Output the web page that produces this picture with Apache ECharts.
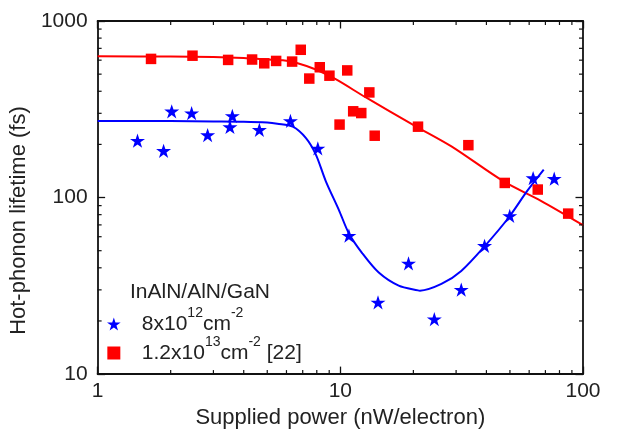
<!DOCTYPE html>
<html>
<head>
<meta charset="utf-8">
<script src="https://cdn.jsdelivr.net/npm/echarts@6/dist/echarts.min.js"></script>
<style>
  html, body { margin: 0; padding: 0; background: #fff; }
  #chart { width: 617px; height: 434px; }
</style>
</head>
<body>
<div id="chart"></div>
<script>
// Axis ticks (log scales)
const xTickValues = [1, 10, 100];
const yTickValues = [10, 100, 1000];
const xMinorTicks = [2, 3, 4, 5, 6, 7, 8, 9, 20, 30, 40, 50, 60, 70, 80, 90];
const yMinorTicks = [20, 30, 40, 50, 60, 70, 80, 90, 200, 300, 400, 500, 600, 700, 800, 900];

// 8x10^12 cm^-2 sample: measured points
const lowPower    = [1.46, 1.87, 2.02, 2.44, 2.84, 3.51, 3.59, 4.64, 6.23, 8.08, 10.85, 14.3, 19.1, 24.4, 31.5, 39.3, 49.9, 62.3, 76.1];
const lowLifetime = [210, 184, 308, 301, 226, 251, 290, 242, 272, 190, 60.9, 25.5, 42.4, 20.5, 30.1, 53.3, 78.8, 129, 128];

// 8x10^12 cm^-2 sample: fitted curve
const lowFitPower    = [1, 2, 3, 4, 5, 5.5, 6.37, 7.22, 7.93, 8.71, 9.88, 10.85, 12.3, 14.4, 17.4, 20.9, 21.3, 26.1, 31.5, 39.8, 49.6, 58.9, 68.9];
const lowFitLifetime = [271, 271, 270, 269, 266, 262, 252, 217, 175, 124, 84.7, 62.6, 48.5, 37.6, 31.7, 29.8, 29.7, 32.4, 38.4, 54, 77.6, 109, 144];

// 1.2x10^13 cm^-2 sample [22]: measured points
const highPower    = [1.66, 2.46, 3.45, 4.33, 4.86, 5.44, 6.33, 6.87, 7.45, 8.23, 9.02, 9.93, 10.68, 11.3, 12.2, 13.17, 13.86, 20.9, 33.7, 47.6, 65.1, 86.9];
const highLifetime = [610, 636, 602, 605, 576, 594, 589, 687, 472, 547, 490, 259, 525, 308, 301, 394, 224, 252, 198, 121, 111, 81.1];

// 1.2x10^13 cm^-2 sample [22]: fitted curve
const highFitPower    = [1, 2, 3, 4, 5, 5.8, 6.57, 7.93, 9.57, 12.7, 20.3, 28.7, 47.3, 66.8, 100];
const highFitLifetime = [631, 629, 625, 617, 606, 599, 580, 531, 468, 370, 255, 195, 123, 96.2, 69.8];

const legendText = {
  low: '8x10{s|12}cm{s|-2}',
  high: '1.2x10{s|13}cm{s|-2} [22]'
};

const zip = (xs, ys) => xs.map((x, i) => [x, ys[i]]);

const FONT = '"Liberation Sans", Arial, Helvetica, sans-serif';
const INK = '#222';
const BLUE = '#0000ff';
const RED = '#ff0000';
const STAR = 'path://M50,0L61.23,34.55L97.55,34.55L68.17,55.9L79.39,90.45L50,69.1L20.61,90.45L31.83,55.9L2.45,34.55L38.77,34.55Z';
const SQUARE = 'path://M0,0L10,0L10,10L0,10Z';

const xRange = [1, 100];
const yRange = [10, 1000];
const minorLen = 4;

const tickFormatter = ticks => v => (ticks.some(t => Math.abs(t - v) < 1e-9 * t) ? String(v) : '');

const axisLine = { show: true, lineStyle: { color: '#111', width: 1.8 } };
const majorTick = { show: true, inside: true, length: 7.5, lineStyle: { color: '#111', width: 1.3 } };

function minorTickSeries(values, isX) {
  return {
    type: 'custom',
    xAxisIndex: 0,
    yAxisIndex: 0,
    silent: true,
    clip: false,
    z: 5,
    data: values.map(v => (isX ? [v, 100] : [10, v])),
    renderItem: (params, api) => {
      const style = { stroke: '#111', lineWidth: 1.2 };
      if (isX) {
        const v = api.value(0);
        const b = api.coord([v, yRange[0]]);
        const t = api.coord([v, yRange[1]]);
        return {
          type: 'group',
          children: [
            { type: 'line', shape: { x1: b[0], y1: b[1], x2: b[0], y2: b[1] - minorLen }, style },
            { type: 'line', shape: { x1: t[0], y1: t[1], x2: t[0], y2: t[1] + minorLen }, style }
          ]
        };
      }
      const v = api.value(1);
      const l = api.coord([xRange[0], v]);
      const r = api.coord([xRange[1], v]);
      return {
        type: 'group',
        children: [
          { type: 'line', shape: { x1: l[0], y1: l[1], x2: l[0] + minorLen, y2: l[1] }, style },
          { type: 'line', shape: { x1: r[0], y1: r[1], x2: r[0] - minorLen, y2: r[1] }, style }
        ]
      };
    }
  };
}

const chart = echarts.init(document.getElementById('chart'), null, { renderer: 'canvas' });

chart.setOption({
  animation: false,
  backgroundColor: '#fff',
  textStyle: { fontFamily: FONT },
  grid: { left: 93, right: 34, top: 21, bottom: 54 },
  title: {
    text: 'InAlN/AlN/GaN',
    left: 130,
    top: 282,
    padding: 0,
    textStyle: { fontSize: 21, fontWeight: 'normal', color: INK, fontFamily: FONT }
  },
  legend: {
    orient: 'vertical',
    left: 107,
    top: 306,
    padding: 0,
    itemGap: -7,
    itemWidth: 46,
    itemHeight: 13,
    symbolKeepAspect: true,
    selectedMode: false,
    data: [
      { name: 'low', icon: STAR, itemStyle: { color: BLUE } },
      { name: 'high', icon: SQUARE, itemStyle: { color: RED } }
    ],
    formatter: name => legendText[name],
    textStyle: {
      fontSize: 21,
      lineHeight: 36,
      color: INK,
      fontFamily: FONT,
      rich: {
        s: { fontSize: 14, lineHeight: 14, verticalAlign: 'top', color: INK, fontFamily: FONT }
      }
    }
  },
  xAxis: [
    {
      type: 'log', logBase: 10, min: xRange[0], max: xRange[1], position: 'bottom',
      name: 'Supplied power (nW/electron)', nameLocation: 'middle', nameGap: 29,
      nameTextStyle: { fontSize: 22, color: INK, fontFamily: FONT },
      axisLine, axisTick: majorTick, splitLine: { show: false },
      axisLabel: { fontSize: 21, color: INK, margin: 7, fontFamily: FONT, formatter: tickFormatter(xTickValues) }
    },
    {
      type: 'log', logBase: 10, min: xRange[0], max: xRange[1], position: 'top',
      axisLine, axisTick: majorTick, splitLine: { show: false }, axisLabel: { show: false }
    }
  ],
  yAxis: [
    {
      type: 'log', logBase: 10, min: yRange[0], max: yRange[1], position: 'left',
      name: 'Hot-phonon lifetime (fs)', nameLocation: 'middle', nameGap: 54, nameRotate: 90,
      nameTextStyle: { fontSize: 22, color: INK, fontFamily: FONT, padding: [0, 46, 0, 0] },
      axisLine, axisTick: majorTick, splitLine: { show: false },
      axisLabel: { fontSize: 21, color: INK, margin: 10, fontFamily: FONT, formatter: tickFormatter(yTickValues) }
    },
    {
      type: 'log', logBase: 10, min: yRange[0], max: yRange[1], position: 'right',
      axisLine, axisTick: majorTick, splitLine: { show: false }, axisLabel: { show: false }
    }
  ],
  series: [
    minorTickSeries(xMinorTicks, true),
    minorTickSeries(yMinorTicks, false),
    {
      name: 'highFit', type: 'line', smooth: 0.3, showSymbol: false, symbol: 'none', z: 2,
      data: zip(highFitPower, highFitLifetime),
      lineStyle: { color: RED, width: 2 }
    },
    {
      name: 'lowFit', type: 'line', smooth: 0.3, showSymbol: false, symbol: 'none', z: 2,
      data: zip(lowFitPower, lowFitLifetime),
      lineStyle: { color: BLUE, width: 2 }
    },
    {
      name: 'high', type: 'scatter', symbol: SQUARE, symbolSize: 10.5, z: 3,
      data: zip(highPower, highLifetime),
      itemStyle: { color: RED, opacity: 1 }
    },
    {
      name: 'low', type: 'scatter', symbol: STAR, symbolSize: 15, symbolKeepAspect: true, z: 4,
      data: zip(lowPower, lowLifetime),
      itemStyle: { color: BLUE, opacity: 1 }
    }
  ]
});
</script>
</body>
</html>
